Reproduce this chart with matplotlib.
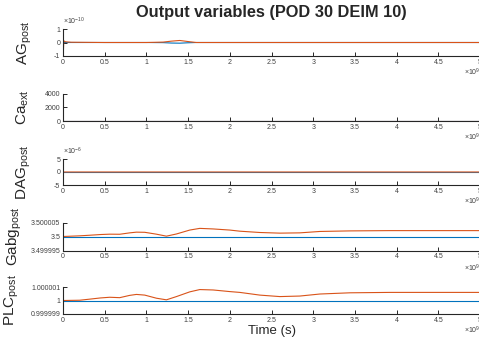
import numpy as np
import matplotlib
matplotlib.use("Agg")
from matplotlib import pyplot as plt

plt.rcParams['font.family'] = ['Liberation Sans', 'DejaVu Sans']
plt.rcParams['mathtext.fontset'] = 'custom'
plt.rcParams['mathtext.rm'] = 'Liberation Sans'
plt.rcParams['mathtext.it'] = 'Liberation Sans:italic'

BLUE = '#0072BD'
ORANGE = '#D95319'
AXC = '#262626'

# time knots in units of 1e9 s
t_knots = [0, 0.2, 0.32, 0.45, 0.56, 0.68, 0.8, 0.88, 0.98, 1.12, 1.24, 1.36,
           1.52, 1.64, 1.8, 2.0, 2.12, 2.36, 2.6, 2.84, 3.08, 3.44, 3.92, 5.0]

# PLC_post deviation from 1 (x1e-6)
plc_dev = [0.0, 0.02, 0.1, 0.19, 0.24, 0.21, 0.38, 0.45, 0.4, 0.17, 0.05, 0.29,
           0.64, 0.81, 0.78, 0.66, 0.6, 0.4, 0.29, 0.33, 0.48, 0.57, 0.6, 0.6]
# Gabg_post deviation from 3.5 (x1e-6)
gabg_dev = [0.0, 0.24, 0.45, 0.7, 0.83, 0.8, 1.3, 1.55, 1.5, 0.83, 0.12, 0.9,
            2.3, 2.9, 2.7, 2.3, 1.9, 1.43, 1.2, 1.3, 1.8, 2.0, 2.1, 2.1]

# AG_post (x1e-10)
ag_t = [0, 0.004, 0.01, 0.03, 0.1, 0.5, 1.0, 1.2, 1.3, 1.4, 1.5, 1.6, 2.0, 3.0, 5.0]
ag_orange = [0.7, -0.7, 0.12, 0.05, 0.02, 0.0, 0.0, 0.03, 0.1, 0.15, 0.07, 0.0, 0.0, 0.0, 0.0]
ag_blue = [0.0, 0.0, 0.0, 0.0, 0.0, 0.0, 0.0, -0.01, -0.04, -0.05, -0.02, 0.0, 0.0, 0.0, 0.0]

# Ca_ext
ca_t = [0, 5.0]
ca_blue = [0, 0]
ca_orange = [0, 0]

# DAG_post (x1e-6)
dag_t = [0, 0.003, 0.008, 5.0]
dag_blue = [0, 0, 0, 0]
dag_orange = [1.1, -1.0, 0.0, 0.0]

x_ticks = [0, 0.5, 1, 1.5, 2, 2.5, 3, 3.5, 4, 4.5, 5]

fig = plt.figure(figsize=(4.79, 3.46), dpi=100)
W, H = 479, 346
left_px, right_px = 63, 480
tops = [29, 94, 159, 222.5, 287]
heights = [27, 27, 26, 28, 27]

axes = []
for top, h in zip(tops, heights):
    ax = fig.add_axes([left_px / W, 1 - (top + h) / H, (right_px - left_px) / W, h / H])
    axes.append(ax)

tk = np.array(t_knots) * 1e9

def style(ax, ylabel, yticks, yticklabels, ylim, label_x, offset=None):
    ax.set_xlim(0, 5e9)
    ax.set_ylim(*ylim)
    ax.set_xticks([v * 1e9 for v in x_ticks])
    ax.set_xticklabels([f"{v:g}" for v in x_ticks])
    ax.set_yticks(yticks)
    ax.set_yticklabels(yticklabels)
    for s in ['top', 'right']:
        ax.spines[s].set_visible(False)
    for s in ['left', 'bottom']:
        ax.spines[s].set_color(AXC)
        ax.spines[s].set_linewidth(0.8)
    ax.tick_params(direction='in', length=3, width=0.7, colors=AXC,
                   labelsize=5, pad=2, labelcolor='#404040')
    ax.set_ylabel(ylabel, fontsize=11, color=AXC)
    ax.yaxis.set_label_coords(label_x, 0.5)
    ax.text(0.962, -0.62, r'$\times$10$^{9}$', transform=ax.transAxes,
            fontsize=5, color='#404040', ha='left', va='center')
    if offset:
        ax.text(0.0, 1.06, offset, transform=ax.transAxes, fontsize=5,
                color='#404040', ha='left', va='bottom')

# AG
ax = axes[0]
ax.plot(np.array(ag_t) * 1e9, np.array(ag_blue) * 1e-10, color=BLUE, lw=0.8)
ax.plot(np.array(ag_t) * 1e9, np.array(ag_orange) * 1e-10, color=ORANGE, lw=0.8)
style(ax, r'AG$_{\rm post}$', [-1e-10, 0, 1e-10], ['-1', '0', '1'], (-1e-10, 1e-10),
      -0.07, r'$\times$10$^{-10}$')

# Ca_ext
ax = axes[1]
ax.plot(np.array(ca_t) * 1e9, ca_blue, color=BLUE, lw=0.8)
ax.plot(np.array(ca_t) * 1e9, ca_orange, color=ORANGE, lw=0.8)
style(ax, r'Ca$_{\rm ext}$', [0, 2000, 4000], ['0', '2000', '4000'], (0, 4000), -0.077)

# DAG
ax = axes[2]
ax.plot(np.array(dag_t) * 1e9, np.array(dag_blue) * 1e-6, color=BLUE, lw=0.8)
ax.plot(np.array(dag_t) * 1e9, np.array(dag_orange) * 1e-6, color=ORANGE, lw=0.8)
style(ax, r'DAG$_{\rm post}$', [-5e-6, 0, 5e-6], ['-5', '0', '5'], (-5e-6, 5e-6),
      -0.072, r'$\times$10$^{-6}$')

# Gabg
ax = axes[3]
ax.plot(tk, np.full(len(tk), 3.5), color=BLUE, lw=0.8)
ax.plot(tk, 3.5 + np.array(gabg_dev) * 1e-6, color=ORANGE, lw=0.8)
style(ax, r'Gabg$_{\rm post}$', [3.5 - 5e-6, 3.5, 3.5 + 5e-6],
      ['3.499995', '3.5', '3.500005'], (3.5 - 5e-6, 3.5 + 5e-6), -0.094)

# PLC
ax = axes[4]
ax.plot(tk, np.full(len(tk), 1.0), color=BLUE, lw=0.8)
ax.plot(tk, 1.0 + np.array(plc_dev) * 1e-6, color=ORANGE, lw=0.8)
style(ax, r'PLC$_{\rm post}$', [1 - 1e-6, 1, 1 + 1e-6],
      ['0.999999', '1', '1.000001'], (1 - 1e-6, 1 + 1e-6), -0.101)
ax.set_xlabel('Time (s)', fontsize=9.5, color=AXC, labelpad=1)

fig.text(271 / W, 1 - 12.5 / H, 'Output variables (POD 30 DEIM 10)', fontsize=11.8,
         fontweight='bold', color=AXC, ha='center', va='center')

fig.savefig('out.png', dpi=100)
